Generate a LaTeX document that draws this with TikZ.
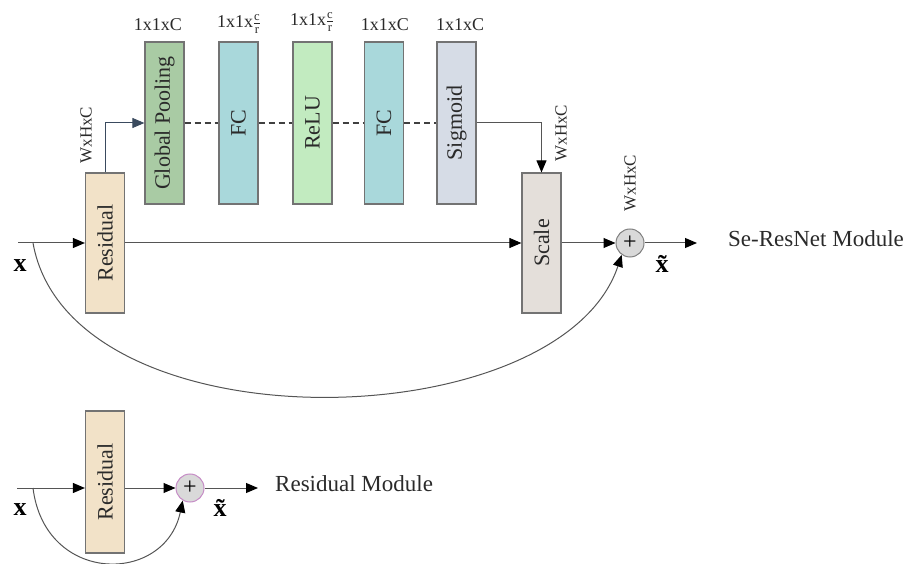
\documentclass[tikz,border=0pt]{standalone}
\usepackage{fontspec}
\setmainfont{Liberation Serif}
\usetikzlibrary{arrows.meta}
\definecolor{cres}{HTML}{F2E2C8}
\definecolor{cgp}{HTML}{A9CBA4}
\definecolor{cfc}{HTML}{A9D8DB}
\definecolor{crelu}{HTML}{C2EBC0}
\definecolor{csig}{HTML}{D6DCE6}
\definecolor{cscale}{HTML}{E4DFDA}
\definecolor{cline}{HTML}{555555}
\definecolor{cdark}{HTML}{3A4A5E}
\definecolor{ctext}{HTML}{2A2A2A}
\tikzset{
  blk/.style={draw=black!55, line width=1.2pt, minimum width=39pt, inner sep=0pt},
  tall/.style={blk, minimum height=162pt},
  mid/.style={blk, minimum height=140pt},
  vlab/.style={rotate=90, text=ctext, font=\fontsize{22}{22}\selectfont},
  dimlab/.style={text=ctext, font=\fontsize{18}{18}\selectfont, inner sep=0pt},
  rdim/.style={rotate=90, text=ctext, font=\fontsize{17}{17}\selectfont, inner sep=0pt},
  plus/.style={circle, draw=black!50, fill=black!15, line width=1pt, minimum size=28pt, inner sep=0pt, font=\fontsize{24}{24}\selectfont},
  tip/.style={-{Triangle[length=12pt,width=10pt,color=black,fill=black]}},
  conn/.style={draw=cline, line width=1pt, tip},
  dsh/.style={draw=black!75, line width=1.3pt, dash pattern=on 6pt off 4pt},
  big/.style={text=ctext, font=\fontsize{23}{23}\selectfont, inner sep=0pt},
  xl/.style={font=\fontsize{26}{26}\selectfont\bfseries, inner sep=0pt}
}
\begin{document}
\begin{tikzpicture}[x=1pt,y=-1pt]
\useasboundingbox (0,0) rectangle (906,564);
% top module
\node[mid, fill=cres] (res) at (105,243) {};
\node[vlab] at (res) {Residual};
\node[tall, fill=cgp] (gp) at (164.5,123) {};
\node[vlab] at (gp) {Global Pooling};
\node[tall, fill=cfc] (fc1) at (238.5,123) {};
\node[vlab] at (fc1) {FC};
\node[tall, fill=crelu] (relu) at (312.5,123) {};
\node[vlab] at (relu) {ReLU};
\node[tall, fill=cfc] (fc2) at (384,123) {};
\node[vlab] at (fc2) {FC};
\node[tall, fill=csig] (sig) at (456.5,123) {};
\node[vlab] at (sig) {Sigmoid};
\node[mid, fill=cscale] (scale) at (541.5,243) {};
\node[vlab] at (scale) {Scale};
\node[plus] (add) at (630,243) {+};

\node[dimlab] (l1) at (158,25) {1x1xC};
\node[dimlab] (l2) at (239,24) {1x1x$\frac{\mathrm{c}}{\mathrm{r}}$};
\node[dimlab] (l3) at (312,22) {1x1x$\frac{\mathrm{c}}{\mathrm{r}}$};
\node[dimlab] (l4) at (385,25) {1x1xC};
\node[dimlab] (l5) at (460,25) {1x1xC};
\node[rdim] (w1) at (86,135) {WxHxC};
\node[rdim] (w2) at (561,133) {WxHxC};
\node[rdim] (w3) at (630,183) {WxHxC};

\coordinate (in1) at (18,243);
\coordinate (br1) at (33,243);
\coordinate (out1) at (697,243);
\node[xl] (x1) at (20,266) {x};
\node[xl] (xt1) at (662,264) {\~{x}};
\node[big, anchor=west] (t1) at (728,239) {Se-ResNet Module};

\draw[conn] (in1) -- (res.west);
\draw[draw=cdark, line width=1pt, -{Triangle[length=12pt,width=10pt,color=cdark,fill=cdark]}] (res.north) |- (gp.west);
\draw[dsh] (gp.east) -- (fc1.west);
\draw[dsh] (fc1.east) -- (relu.west);
\draw[dsh] (relu.east) -- (fc2.west);
\draw[dsh] (fc2.east) -- (sig.west);
\draw[conn] (sig.east) -| (scale.north);
\draw[conn] (res.east) -- (scale.west);
\draw[conn] (scale.east) -- (add.west);
\draw[conn] (add.east) -- (out1);
\draw[conn] (br1) .. controls (70,450) and (560,440) .. (add.-125);

% bottom module
\node[mid, fill=cres, minimum height=142pt] (res2) at (105,482) {};
\node[vlab] at (res2) {Residual};
\node[plus, draw=violet!45] (add2) at (190,488) {+};
\coordinate (in2) at (17,488);
\coordinate (br2) at (33,488);
\coordinate (out2) at (258,488);
\node[xl] (x2) at (20,510) {x};
\node[xl] (xt2) at (220,508) {\~{x}};
\node[big, anchor=west] (t2) at (275,484) {Residual Module};

\draw[conn] (in2) -- (res2.west |- in2);
\draw[conn] (res2.east |- add2) -- (add2.west);
\draw[conn] (add2.east) -- (out2);
\draw[conn] (br2) .. controls (45,585) and (165,585) .. (add2.-120);
\end{tikzpicture}
\end{document}
